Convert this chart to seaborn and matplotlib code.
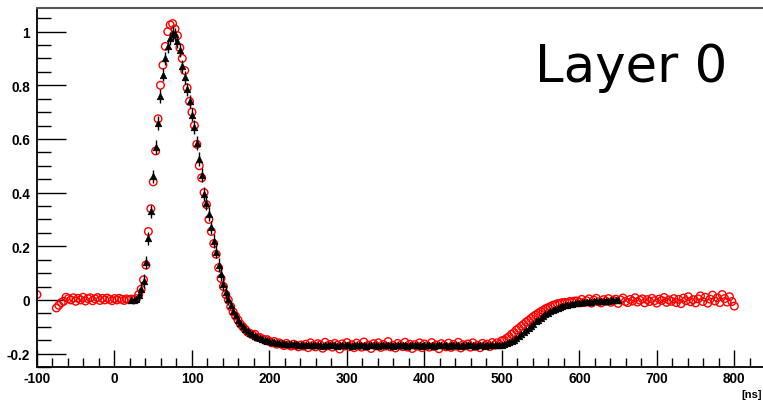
import numpy as np
import pandas as pd
import matplotlib
matplotlib.use("Agg")
import matplotlib.pyplot as plt
import seaborn as sns

# ---------------- data ----------------
t_step = 3.125          # ns, sampling period
red_t_first = [-100.0]  # isolated first red point
red_y_first = [0.02]
red_t0 = -75.0
red_baseline = [-0.030, -0.020, -0.010, -0.005, 0.010, 0.005, 0.000, 0.008, -0.005, 0.006,
                0.000, 0.010, -0.004, 0.005, 0.008, -0.003, 0.004, 0.009, -0.002, 0.006,
                0.000, 0.007, 0.002, -0.003, 0.005, 0.000, 0.006, 0.002, -0.002, 0.004,
                0.001, 0.003, 0.000, 0.005]
red_pulse = [0.02, 0.04, 0.075, 0.13, 0.255, 0.34, 0.44, 0.555, 0.675, 0.80,
             0.875, 0.945, 1.00, 1.025, 1.03, 1.01, 0.985, 0.94, 0.90, 0.855,
             0.79, 0.74, 0.70, 0.65, 0.58, 0.50, 0.455, 0.40, 0.355, 0.30,
             0.255, 0.21, 0.17, 0.12, 0.08, 0.05, 0.02, 0.0, -0.025, -0.045,
             -0.06, -0.075, -0.09, -0.10, -0.11, -0.12, -0.125, -0.13, -0.128, -0.14,
             -0.14, -0.145, -0.15, -0.148, -0.155, -0.16, -0.155, -0.165, -0.16, -0.165,
             -0.17, -0.162, -0.168, -0.172, -0.165, -0.17, -0.175, -0.168]
red_undershoot = [-0.172, -0.165, -0.178, -0.160, -0.170, -0.175, -0.163, -0.168, -0.180, -0.158,
                  -0.171, -0.166, -0.176, -0.162, -0.169, -0.183, -0.164, -0.172, -0.159, -0.174,
                  -0.167, -0.178, -0.161, -0.170, -0.176, -0.157, -0.173, -0.168, -0.181, -0.163,
                  -0.171, -0.160, -0.177, -0.166, -0.172, -0.155, -0.175, -0.169, -0.179, -0.162,
                  -0.170, -0.174, -0.158, -0.176, -0.165, -0.181, -0.167, -0.172, -0.160, -0.178,
                  -0.164, -0.171, -0.176, -0.159, -0.173, -0.168, -0.182, -0.163, -0.170, -0.175,
                  -0.161, -0.177, -0.166, -0.172, -0.158, -0.179, -0.167, -0.171, -0.164, -0.176,
                  -0.160, -0.173, -0.169, -0.178, -0.162, -0.170, -0.165, -0.174, -0.159, -0.168]
red_recovery = [-0.160, -0.166, -0.152, -0.150, -0.143, -0.137, -0.128, -0.122, -0.112, -0.106,
                -0.098, -0.091, -0.083, -0.077, -0.069, -0.062, -0.056, -0.050, -0.044, -0.039,
                -0.033, -0.029, -0.025, -0.020, -0.018, -0.014, -0.013, -0.010, -0.009, -0.011,
                -0.006, -0.007, -0.004]
red_tail = [-0.004, -0.008, 0.002, -0.010, -0.003, 0.004, -0.012, -0.001, 0.006, -0.007,
            -0.011, 0.001, -0.005, 0.005, -0.009, -0.002, 0.003, -0.013, 0.000, 0.007,
            -0.006, -0.010, 0.002, -0.004, 0.008, -0.008, -0.001, 0.004, -0.011, 0.001,
            -0.006, 0.006, -0.003, -0.012, 0.003, -0.002, 0.009, -0.009, 0.000, -0.005,
            0.005, -0.010, 0.002, -0.014, 0.007, -0.003, 0.012, -0.007, 0.001, -0.011,
            0.004, 0.015, -0.006, 0.010, -0.012, 0.003, 0.018, -0.004, 0.008, -0.010,
            0.020, 0.005, -0.008, 0.012, -0.006, -0.023]

black_t0 = 21.875
black_baseline = [0.000, -0.002, 0.004]
black_pulse = [0.02, 0.04, 0.07, 0.14, 0.23, 0.33, 0.46, 0.57, 0.66, 0.76, 0.84,
               0.90, 0.945, 0.975, 0.995, 0.99, 0.965, 0.93, 0.87, 0.83, 0.785, 0.74,
               0.69, 0.645, 0.585, 0.525, 0.465, 0.395, 0.36, 0.32, 0.27, 0.22, 0.18,
               0.13, 0.095, 0.06, 0.03, 0.005, -0.02, -0.04, -0.058, -0.073, -0.085, -0.097,
               -0.107, -0.115, -0.122, -0.128, -0.133, -0.138, -0.142, -0.146, -0.149, -0.152, -0.154,
               -0.156, -0.158, -0.16, -0.161, -0.162, -0.163, -0.164, -0.165, -0.165, -0.166,
               -0.166, -0.167, -0.167]
black_undershoot = [-0.167, -0.168, -0.168, -0.169, -0.168, -0.167, -0.169, -0.168, -0.170, -0.168,
                    -0.167, -0.169, -0.168, -0.168, -0.170, -0.169, -0.168, -0.167, -0.169, -0.168,
                    -0.170, -0.168, -0.169, -0.167, -0.168, -0.169, -0.170, -0.168, -0.167, -0.169,
                    -0.168, -0.170, -0.169, -0.168, -0.167, -0.169, -0.168, -0.170, -0.168, -0.169,
                    -0.167, -0.168, -0.169, -0.170, -0.168, -0.167, -0.169, -0.168, -0.169, -0.170,
                    -0.168, -0.167, -0.169, -0.168, -0.170, -0.169, -0.168, -0.167, -0.169, -0.168,
                    -0.170, -0.168, -0.169, -0.167, -0.168, -0.170, -0.169, -0.168, -0.167, -0.169,
                    -0.168, -0.170, -0.169, -0.168, -0.169, -0.170, -0.168, -0.169, -0.168, -0.169]
black_recovery = [-0.168, -0.168, -0.167, -0.165, -0.162, -0.158, -0.153, -0.148, -0.142, -0.135,
                  -0.128, -0.120, -0.112, -0.104, -0.096, -0.088, -0.080, -0.073, -0.066, -0.060,
                  -0.054, -0.048, -0.043, -0.038, -0.034, -0.030, -0.026, -0.023, -0.020, -0.018,
                  -0.016, -0.014, -0.012]
black_tail = [-0.011, -0.010, -0.009, -0.008, -0.007, -0.006, -0.006, -0.005, -0.005,
              -0.004, -0.004, -0.003, -0.003, -0.003, -0.002, -0.002, -0.002, -0.002]
black_err_rise = 0.025   # error bar half-length on the fast pulse (31-150 ns)
black_err_flat = 0.006
n_black_rise_err = 38

x_ticks = [-100, 0, 100, 200, 300, 400, 500, 600, 700, 800]
x_ticklabels = ["-100", "0", "100", "200", "300", "400", "500", "600", "700", "800"]
y_ticks = [-0.2, 0, 0.2, 0.4, 0.6, 0.8, 1.0]
y_ticklabels = ["-0.2", "0", "0.2", "0.4", "0.6", "0.8", "1"]
label_text = "Layer 0"
unit_text = "[ns]"

# ---------------- build tables ----------------
red_y_main = red_baseline + red_pulse + red_undershoot + red_recovery + red_tail
red_t = np.concatenate([red_t_first, red_t0 + t_step * np.arange(len(red_y_main))])
red_y = np.array(red_y_first + red_y_main)
red_df = pd.DataFrame({"t": red_t, "amp": red_y})

black_y = np.array(black_baseline + black_pulse + black_undershoot + black_recovery + black_tail)
black_t = black_t0 + t_step * np.arange(len(black_y))
black_err = np.array([black_err_flat] * len(black_baseline)
                     + [black_err_rise] * n_black_rise_err
                     + [black_err_flat] * (len(black_y) - len(black_baseline) - n_black_rise_err))
black_df = pd.DataFrame({"t": black_t, "amp": black_y, "err": black_err})

# ---------------- plot ----------------
sns.set_style("white")
plt.rcParams["font.family"] = ["Liberation Sans", "DejaVu Sans"]
plt.rcParams["text.color"] = "black"
plt.rcParams["xtick.color"] = "black"
plt.rcParams["ytick.color"] = "black"
plt.rcParams["axes.labelcolor"] = "black"

fig = plt.figure(figsize=(7.63, 4.02), dpi=100)
ax = fig.add_axes([37 / 763, 1 - 368 / 402, 1 - 37 / 763, (368 - 9) / 402])

sns.scatterplot(data=red_df, x="t", y="amp", ax=ax, marker="o", s=30,
                facecolor="none", edgecolor="#ff0000", linewidth=1.0, zorder=2)
ax.errorbar(black_df["t"], black_df["amp"], yerr=black_df["err"], fmt="none",
            ecolor="black", elinewidth=1.0, capsize=0, zorder=3)
sns.scatterplot(data=black_df, x="t", y="amp", ax=ax, marker="^", s=22,
                color="black", edgecolor="black", linewidth=0.5, zorder=4)

ax.set_xlim(-100, 837)
ax.set_ylim(-0.25, 1.088)
ax.set_xlabel("")
ax.set_ylabel("")

ax.set_xticks(x_ticks)
ax.set_xticklabels(x_ticklabels)
ax.set_yticks(y_ticks)
ax.set_yticklabels(y_ticklabels)
ax.set_xticks(np.arange(-100, 837, 20), minor=True)
ax.set_yticks(np.arange(-0.25, 1.09, 0.05), minor=True)

ax.tick_params(axis="x", which="major", direction="in", length=12, width=1, pad=3,
               labelsize=9.8, bottom=True, top=False, colors="black")
ax.tick_params(axis="x", which="minor", direction="in", length=6.5, width=1,
               bottom=True, top=False, colors="black")
ax.tick_params(axis="y", which="major", direction="in", length=21, width=1, pad=5,
               labelsize=9.8, left=True, right=False, colors="black")
ax.tick_params(axis="y", which="minor", direction="in", length=10, width=1,
               left=True, right=False, colors="black")
for lab in ax.get_xticklabels() + ax.get_yticklabels():
    lab.set_fontweight("bold")

for side in ["left", "bottom"]:
    ax.spines[side].set_color("black")
    ax.spines[side].set_linewidth(1.3)
ax.spines["top"].set_color("#555555")
ax.spines["top"].set_linewidth(1.5)
ax.spines["right"].set_visible(False)

fig.text(535 / 763, 1 - 82 / 402, label_text, fontsize=37, color="black",
         family=["DejaVu Sans"], ha="left", va="baseline")
fig.text(0.999, 1 - 395 / 402, unit_text, fontsize=8, fontweight="bold", color="black",
         ha="right", va="center")

fig.savefig("out.png", dpi=100)
